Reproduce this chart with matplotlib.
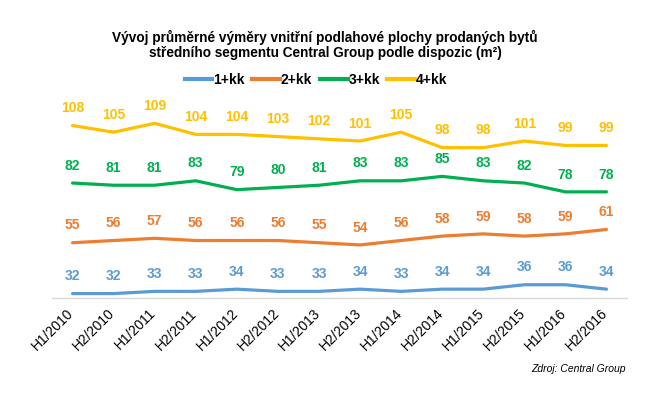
import matplotlib
matplotlib.use("Agg")
import matplotlib.pyplot as plt
from matplotlib.lines import Line2D
from matplotlib.transforms import ScaledTranslation

plt.rcParams['font.family'] = ['Liberation Sans', 'DejaVu Sans']

periods = ["H1/2010", "H2/2010", "H1/2011", "H2/2011", "H1/2012", "H2/2012", "H1/2013",
           "H2/2013", "H1/2014", "H2/2014", "H1/2015", "H2/2015", "H1/2016", "H2/2016"]
kk1 = [32, 32, 33, 33, 34, 33, 33, 34, 33, 34, 34, 36, 36, 34]
kk2 = [55, 56, 57, 56, 56, 56, 55, 54, 56, 58, 59, 58, 59, 61]
kk3 = [82, 81, 81, 83, 79, 80, 81, 83, 83, 85, 83, 82, 78, 78]
kk4 = [108, 105, 109, 104, 104, 103, 102, 101, 105, 98, 98, 101, 99, 99]
series_names = ["1+kk", "2+kk", "3+kk", "4+kk"]
colors = ["#5B9BD5", "#ED7D31", "#00B050", "#FFC000"]

fig = plt.figure(figsize=(6.70, 4.08), dpi=100)
ax = fig.add_axes([52/670, 1-298/408, (627-52)/670, (298-99)/408])

x = list(range(len(periods)))
for vals, c in zip([kk1, kk2, kk3, kk4], colors):
    ax.plot(x, vals, color=c, lw=2.3, solid_capstyle='round', solid_joinstyle='round')
    for xi, v in zip(x, vals):
        ax.annotate(str(v), (xi, v), xytext=(0, 12.5), textcoords='offset points',
                    ha='center', va='center', color=c, fontsize=10, fontweight='bold')

ax.set_xlim(-0.5, len(periods)-0.5)
ax.set_ylim(30, 120)
ax.set_yticks([])
for s in ['top', 'right', 'left']:
    ax.spines[s].set_visible(False)
ax.spines['bottom'].set_color('#D9D9D9')
ax.spines['bottom'].set_linewidth(1)
ax.set_xticks(x)
ax.set_xticklabels(periods, rotation=45, ha='right', fontsize=10, color='#000000')
ax.tick_params(axis='x', length=0, pad=6)
shift = ScaledTranslation(4/100, 0, fig.dpi_scale_trans)
for lbl in ax.get_xticklabels():
    lbl.set_transform(lbl.get_transform() + shift)

fig.text(0.485, 1-37/408, "Vývoj průměrné výměry vnitřní podlahové plochy prodaných bytů",
         ha='center', va='center', fontsize=9.8, fontweight='bold')
fig.text(0.485, 1-53/408, "středního segmentu Central Group podle dispozic (m²)",
         ha='center', va='center', fontsize=9.8, fontweight='bold')

handles = [Line2D([0], [0], color=c, lw=3) for c in colors]
fig.legend(handles, series_names, loc='center', bbox_to_anchor=(316/670, 1-80/408), ncol=4,
           frameon=False, prop={'weight': 'bold', 'size': 10}, handlelength=2.0,
           handletextpad=0.05, columnspacing=0.55)

fig.text(626/670, 1-369/408, "Zdroj: Central Group", ha='right', va='center',
         fontsize=7.5, style='italic')

fig.savefig("out.png", dpi=100)
